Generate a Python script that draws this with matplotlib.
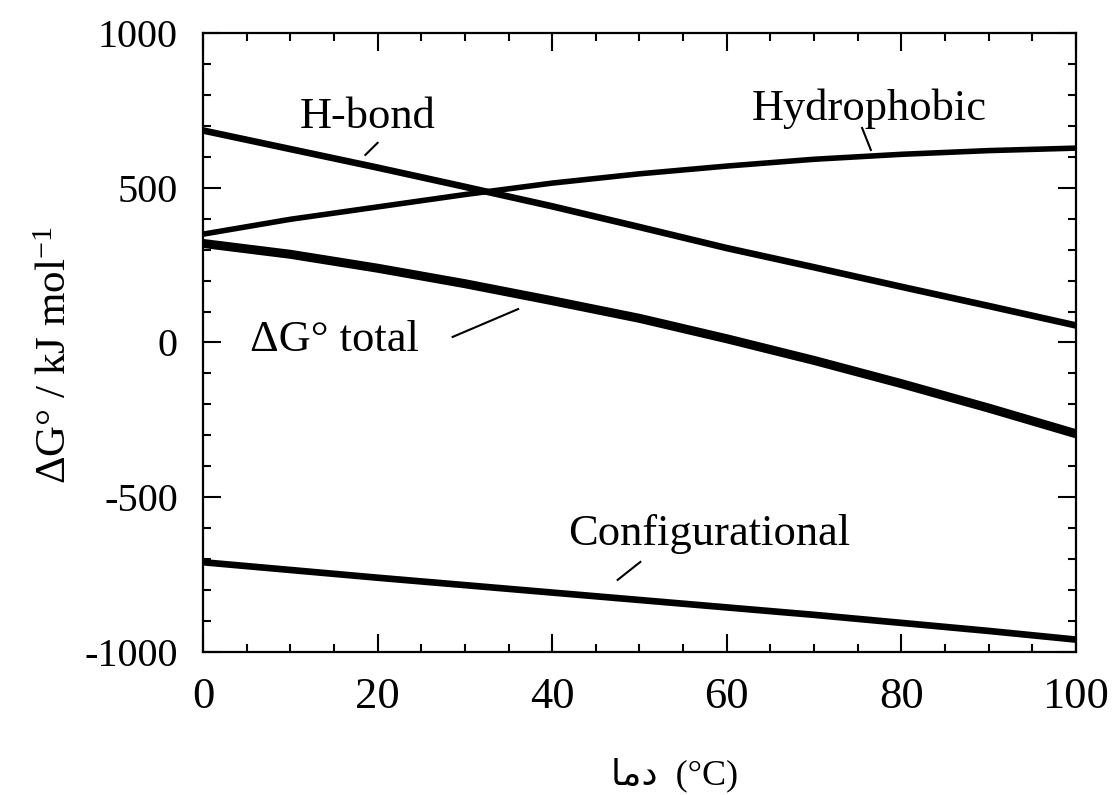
"""
Gibbs free energy contributions vs temperature
"""

import matplotlib
matplotlib.use("Agg")
import matplotlib.pyplot as plt
from matplotlib.ticker import MultipleLocator

# ── data ──────────────────────────────────────────
TEMP = [0, 10, 20, 30, 40, 50, 60, 70, 80, 90, 100]
HBOND = [685, 625, 565, 503, 440, 373, 305, 243, 180, 118, 55]
HYDROPHOBIC = [350, 398, 438, 478, 515, 545, 570, 592, 608, 620, 628]
TOTAL = [320, 285, 240, 190, 135, 78, 12, -58, -133, -212, -295]
CONFIG = [-710, -735, -760, -784, -808, -832, -856, -880, -906, -932, -960]

# label text, anchor of text, leader line start/end
LABELS = [
    ("H-bond",          (11.1, 693),  (18.6, 606),  (20.0, 645)),
    ("Hydrophobic",     (62.9, 719),  (75.5, 693),  (76.5, 622)),
    ("ΔG° total",       (5.4, -27),   (28.6, 18),   (36.1, 108)),
    ("Configurational", (41.8, -654), (47.5, -767), (50.1, -709)),
]

XLABEL = "\uFE8E\uFEE3\uFEA9  (°C)"   # "دما" in visual order (presentation forms)
YLABEL = r"ΔG° / kJ mol$^{\mathrm{-1}}$"

SERIF = ["Liberation Serif", "DejaVu Sans"]

plt.rcParams["font.family"] = SERIF
plt.rcParams["axes.unicode_minus"] = False
plt.rcParams["mathtext.fontset"] = "custom"
plt.rcParams["mathtext.rm"] = "Liberation Serif"
plt.rcParams["mathtext.it"] = "Liberation Serif:italic"

# ── plot ──────────────────────────────────────────
fig = plt.figure(figsize=(11.14, 7.95), dpi=100)
ax = fig.add_axes([0.1822, 0.1799, 0.9659 - 0.1822, 0.9585 - 0.1799])

ax.plot(TEMP, HBOND, color="black", lw=4.8, solid_capstyle="butt")
ax.plot(TEMP, HYDROPHOBIC, color="black", lw=4.0, solid_capstyle="butt")
ax.plot(TEMP, TOTAL, color="black", lw=6.5, solid_capstyle="butt")
ax.plot(TEMP, CONFIG, color="black", lw=4.8, solid_capstyle="butt")

for text, (tx, ty), p0, p1 in LABELS:
    ax.text(tx, ty, text, fontsize=32, ha="left", va="baseline")
    ax.plot([p0[0], p1[0]], [p0[1], p1[1]], color="black", lw=1.5)

ax.set_xlim(0, 100)
ax.set_ylim(-1000, 1000)
ax.xaxis.set_major_locator(MultipleLocator(20))
ax.xaxis.set_minor_locator(MultipleLocator(5))
ax.yaxis.set_major_locator(MultipleLocator(500))
ax.yaxis.set_minor_locator(MultipleLocator(100))

ax.tick_params(which="both", direction="in", top=True, right=True, width=1.5)
ax.tick_params(which="major", length=13)
ax.tick_params(which="minor", length=6)
ax.tick_params(axis="x", which="major", labelsize=32, pad=18)
ax.tick_params(axis="y", which="major", labelsize=29, pad=18)
for spine in ax.spines.values():
    spine.set_linewidth(1.6)

ax.set_xlabel(XLABEL, fontsize=26)
ax.xaxis.set_label_coords(0.54, -0.17)
ax.set_ylabel(YLABEL, fontsize=31)
ax.yaxis.set_label_coords(-0.147, 0.48)

fig.savefig("out.png", dpi=100, facecolor="white")
plt.close(fig)
